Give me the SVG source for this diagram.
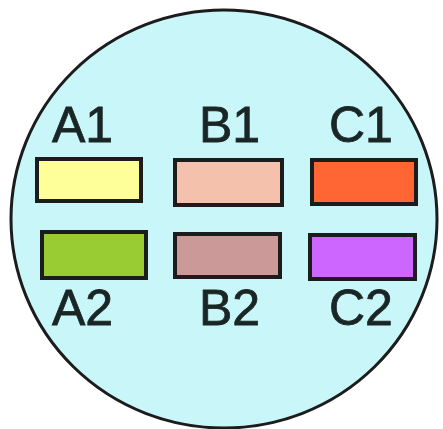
<svg xmlns="http://www.w3.org/2000/svg" width="443" height="429" viewBox="0 0 443 429">
<style>
.box{stroke:#1c1c1c;stroke-width:4}
.lbl{font-family:"Liberation Sans",Arial,sans-serif;font-size:50px;fill:#1a2626;stroke:#1a2626;stroke-width:0.8}
</style>
<rect width="443" height="429" fill="#ffffff"/>
<ellipse id="plate" cx="224" cy="219" rx="213" ry="209" fill="#c9f6f8" stroke="#1c1c1c" stroke-width="3"/>
<g id="A1"><rect class="box" x="37" y="159" width="104" height="42" fill="#ffff99"/><text class="lbl" x="52" y="142">A1</text></g>
<g id="B1"><rect class="box" x="175" y="160" width="107" height="45" fill="#f4c2ac"/><text class="lbl" x="199" y="142">B1</text></g>
<g id="C1"><rect class="box" x="312" y="160" width="104" height="44" fill="#ff6633"/><text class="lbl" x="329" y="142">C1</text></g>
<g id="A2"><rect class="box" x="42" y="232" width="104" height="46" fill="#99cc33"/><text class="lbl" x="52" y="325">A2</text></g>
<g id="B2"><rect class="box" x="175" y="234" width="105" height="43" fill="#cc9999"/><text class="lbl" x="199" y="325">B2</text></g>
<g id="C2"><rect class="box" x="310" y="235" width="105" height="44" fill="#cc66ff"/><text class="lbl" x="329" y="325">C2</text></g>
</svg>
